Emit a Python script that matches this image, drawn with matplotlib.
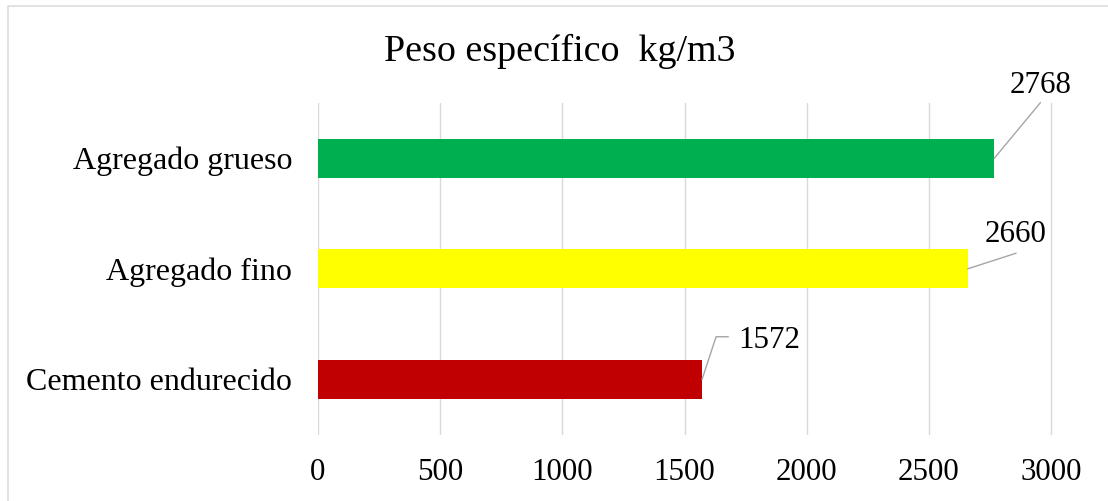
import matplotlib
matplotlib.use("Agg")
from matplotlib import pyplot as plt
from matplotlib.lines import Line2D
from matplotlib.patches import Rectangle

CATEGORIES = ["Cemento endurecido", "Agregado fino", "Agregado grueso"]
VALUES = [1572, 2660, 2768]
COLORS = ["#c00000", "#ffff00", "#00b050"]
X_TICKS = [0, 500, 1000, 1500, 2000, 2500, 3000]
TITLE = "Peso específico  kg/m3"

# data label placement, pixels relative to bar end (y up)
LABEL_TEXT_OFFSETS = [(36, 31.5), (48, 26.5), (46, 65.5)]
LABEL_HA = ["left", "center", "center"]
LEADER_POINTS = [
    [(0, 0), (14, 42.5), (26, 42.5)],
    [(0, 0), (48, 15.5)],
    [(0, 0), (46, 55.5)],
]

plt.rcParams["font.family"] = ["Liberation Serif", "DejaVu Serif"]

DPI = 72
W, H = 1108, 501
fig = plt.figure(figsize=(W / DPI, H / DPI), dpi=DPI, facecolor="white")
ax = fig.add_axes([318 / W, 1 - 434.5 / H, (1051 - 318) / W * 3050 / 3000, 331.5 / H])

y = list(range(len(CATEGORIES)))
ax.barh(y, VALUES, height=0.353, color=COLORS, zorder=3)
ax.set_xlim(0, 3050)
ax.set_ylim(-0.5, len(CATEGORIES) - 0.5)
ax.set_xticks(X_TICKS)
ax.set_xticklabels([str(t) for t in X_TICKS])
ax.set_yticks(y)
ax.set_yticklabels(CATEGORIES)
ax.grid(axis="x", color="#d9d9d9", linewidth=1.4, zorder=0)
for side in ["top", "right", "bottom", "left"]:
    ax.spines[side].set_visible(False)
ax.tick_params(axis="both", length=0)
ax.tick_params(axis="x", pad=23, labelsize=31)
ax.tick_params(axis="y", pad=26, labelsize=32)

for i, val in enumerate(VALUES):
    dx, dy = LABEL_TEXT_OFFSETS[i]
    ax.annotate(str(val), xy=(val, i), xytext=(dx, dy), textcoords="offset pixels",
                fontsize=31, ha=LABEL_HA[i], va="baseline")
    bx, by = ax.transData.transform((val, i))
    xs = [bx + px for px, _ in LEADER_POINTS[i]]
    ys = [by + py for _, py in LEADER_POINTS[i]]
    fig.add_artist(Line2D(xs, ys, transform=None, color="#a6a6a6", linewidth=1.4))

fig.text(560 / W, 1 - 61 / H, TITLE, ha="center", va="baseline", fontsize=38)

fig.patches.append(Rectangle((7.5 / W, -0.1), 1.2, 1 - 6 / H + 0.1,
                             transform=fig.transFigure, fill=False,
                             edgecolor="#d9d9d9", linewidth=1.5))

fig.savefig("out.png", dpi=DPI, facecolor="white")
